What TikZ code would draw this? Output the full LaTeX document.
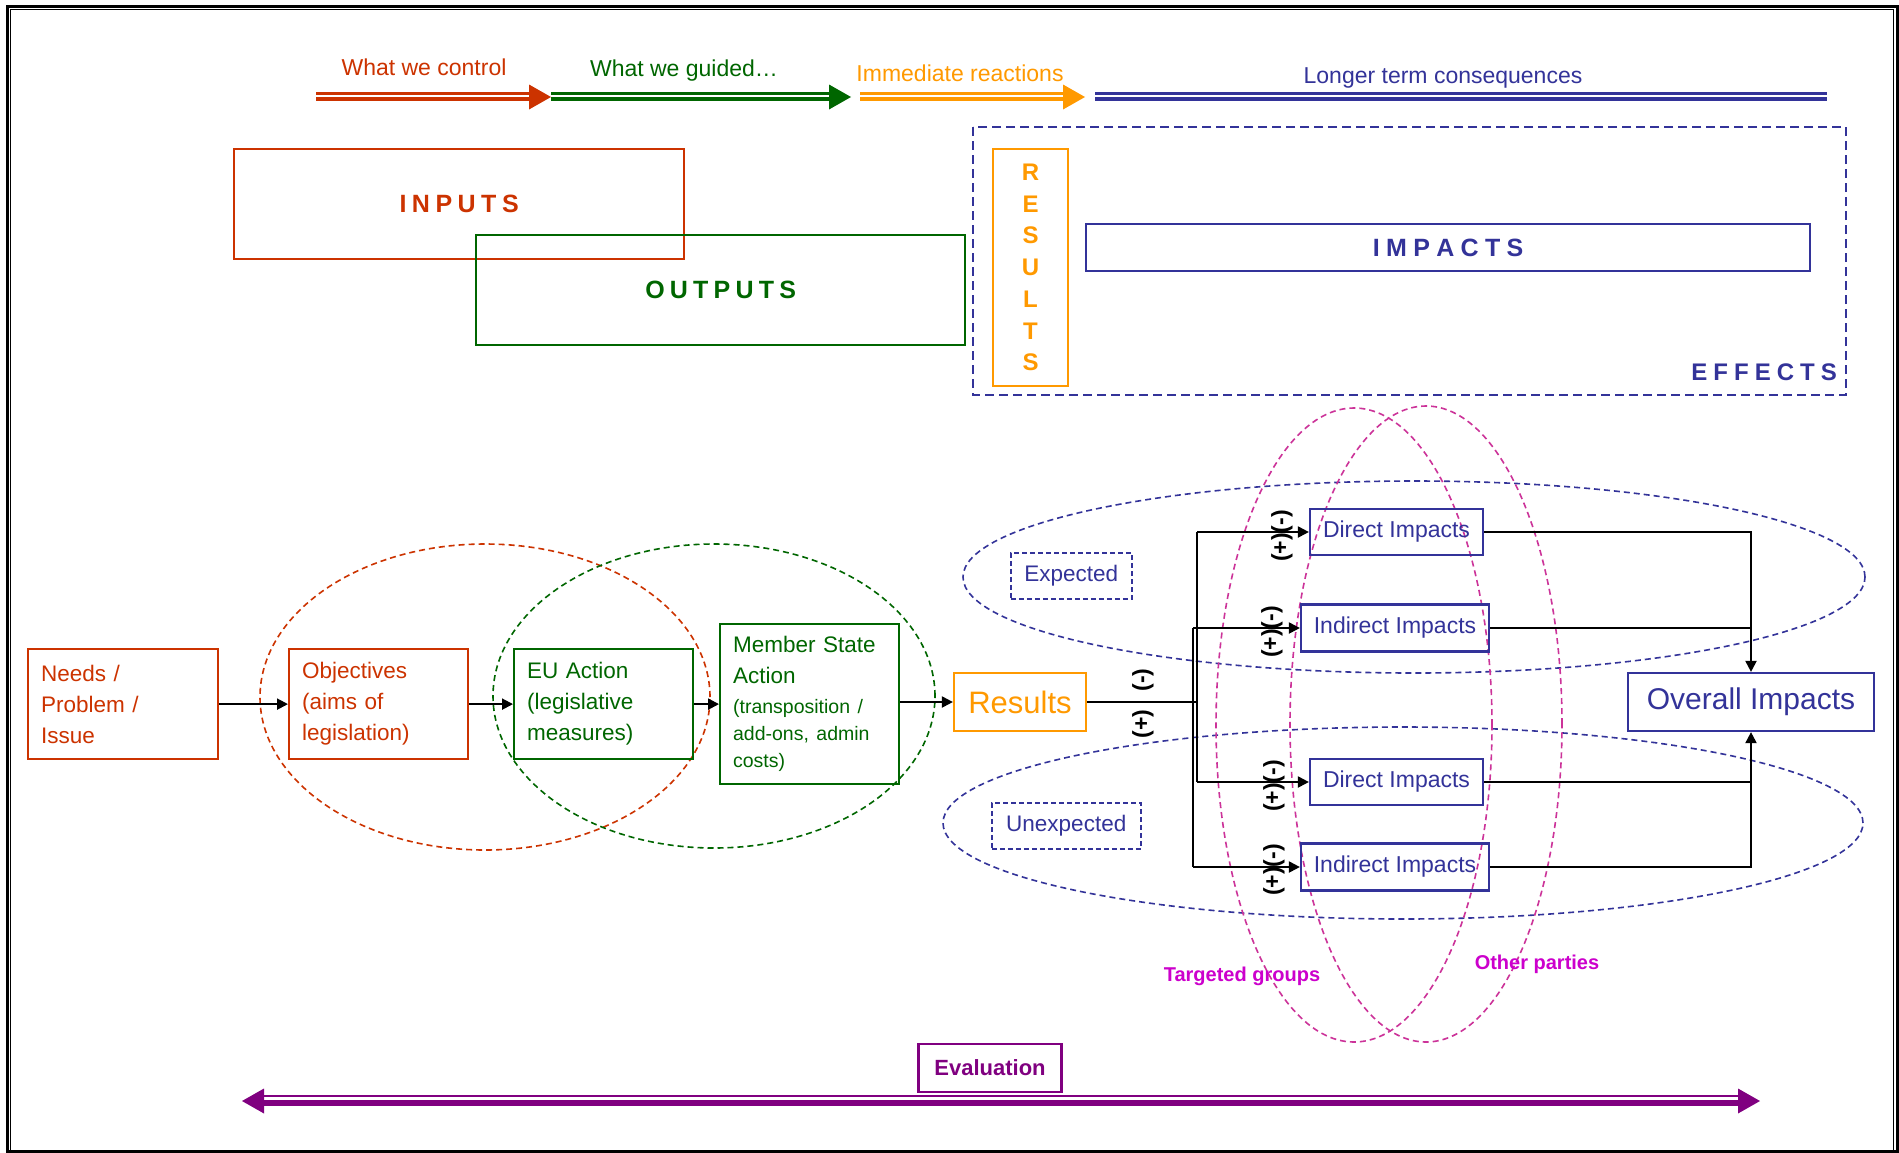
\documentclass[tikz,border=0pt]{standalone}
\usepackage{fontspec}
\setmainfont{Liberation Sans}
\usetikzlibrary{arrows.meta}

\definecolor{ctrlred}{HTML}{CC3300}
\definecolor{guidegreen}{HTML}{006600}
\definecolor{reactorange}{HTML}{FF9900}
\definecolor{effectblue}{HTML}{333399}
\definecolor{grouppink}{HTML}{CC3399}
\definecolor{grouptext}{HTML}{CC00CC}
\definecolor{evalpurple}{HTML}{800080}

% letter-spaced capitals
\newlength\trkgap
\def\trkloop#1{\ifx\relax#1\else#1\kern\trkgap\expandafter\trkloop\fi}
\newcommand\tracked[2]{\setlength\trkgap{#1}\trkloop#2\relax\unkern}

\begin{document}
\begin{tikzpicture}[x=1pt,y=-1pt,
  every node/.style={inner sep=0pt},
  lbox/.style={draw, line width=2.2pt, anchor=north west, inner xsep=13pt, inner ysep=0pt,
               align=left, font=\fontsize{22.5}{31}\selectfont},
  ibox/.style={draw=effectblue, line width=2.2pt, text=effectblue, inner sep=0pt,
               font=\fontsize{23}{28}\selectfont},
  capsbox/.style={draw, line width=2.2pt, anchor=north west, font=\bfseries\fontsize{25}{30}\selectfont},
  toplabel/.style={font=\fontsize{23}{28}\selectfont},
  oval/.style={dashed, dash pattern=on 6pt off 4pt, line width=1.6pt},
  tagbox/.style={draw=effectblue, dashed, dash pattern=on 5pt off 3pt, line width=1.5pt,
                 text=effectblue, font=\fontsize{22.5}{28}\selectfont, anchor=north west},
  wire/.style={draw, line width=2pt},
  conn/.style={draw, line width=2pt, -{Triangle[length=11pt,width=11pt]}},
  pm/.style={font=\bfseries\fontsize{23}{28}\selectfont, rotate=90},
  grouplabel/.style={text=grouptext, font=\bfseries\fontsize{20}{24}\selectfont}
]
% page and frame
\fill[white] (0,0) rectangle (1899,1152);
\useasboundingbox (0,0) rectangle (1899,1152);
\draw[line width=3pt] (7,6) rectangle (1897,1151);
\draw[line width=1.5pt] (10.5,1151) -- (10.5,9.5) -- (1893.5,9.5) -- (1893.5,1151);

% ---- top band of arrows ----
\coordinate (ctrlS) at (316,97);   \coordinate (ctrlE) at (551,97);
\coordinate (guideS) at (551,97);  \coordinate (guideE) at (851,97);
\coordinate (reactS) at (860,97);  \coordinate (reactE) at (1085,97);
\coordinate (longS) at (1095,97);

\draw[ctrlred, line width=2.5pt] (ctrlS) ++(0,-3.5) -- ++(215,0);
\draw[ctrlred, line width=4.5pt] (ctrlS) ++(0,2) -- ++(215,0);
\fill[ctrlred] (ctrlE) -- ++(-22,-12.5) -- ++(0,25) -- cycle;

\draw[guidegreen, line width=2.5pt] (guideS) ++(0,-3.5) -- ++(280,0);
\draw[guidegreen, line width=4.5pt] (guideS) ++(0,2) -- ++(280,0);
\fill[guidegreen] (guideE) -- ++(-22,-12.5) -- ++(0,25) -- cycle;

\draw[reactorange, line width=2.5pt] (reactS) ++(0,-3.5) -- ++(205,0);
\draw[reactorange, line width=4.5pt] (reactS) ++(0,2) -- ++(205,0);
\fill[reactorange] (reactE) -- ++(-22,-12.5) -- ++(0,25) -- cycle;

\draw[effectblue, line width=2.5pt] (longS) ++(0,-3.5) -- ++(732,0);
\draw[effectblue, line width=4.5pt] (longS) ++(0,2) -- ++(732,0);

\node[toplabel, text=ctrlred] (tctrl) at (424,67) {What we control};
\node[toplabel, text=guidegreen] (tguide) at (684,71) {What we guided…};
\node[toplabel, text=reactorange] (treact) at (960,73) {Immediate reactions};
\node[toplabel, text=effectblue] (tlong) at (1443,78) {Longer term consequences};

% ---- top blocks ----
\node[capsbox, draw=ctrlred, text=ctrlred, minimum width=450pt, minimum height=110pt] (inputs) at (233,148)
  {\tracked{5.5pt}{INPUTS}};
\node[capsbox, draw=guidegreen, text=guidegreen, minimum width=489pt, minimum height=110pt] (outputs) at (475,234)
  {\tracked{5.2pt}{OUTPUTS}};
\draw[effectblue, dashed, dash pattern=on 9pt off 5pt, line width=2pt] (973,127) rectangle (1846,395);
\node[draw=reactorange, line width=2pt, anchor=north west, minimum width=75pt, minimum height=237pt,
      align=center, text=reactorange, font=\bfseries\fontsize{24}{31.7}\selectfont] (resv) at (992,148)
  {R\\E\\S\\U\\L\\T\\S};
\node[capsbox, draw=effectblue, text=effectblue, minimum width=724pt, minimum height=47pt] (impacts) at (1085,223)
  {\tracked{6.3pt}{IMPACTS}};
\node[anchor=east, text=effectblue, font=\bfseries\fontsize{24}{30}\selectfont] (effects) at (1837,372)
  {\tracked{6pt}{EFFECTS}};

% ---- dashed groupings ----
\draw[oval, ctrlred] (485,697) ellipse [x radius=225pt, y radius=153pt];
\draw[oval, guidegreen] (714,696) ellipse [x radius=221pt, y radius=152pt];
\draw[oval, effectblue] (1414,577) ellipse [x radius=451pt, y radius=96pt];
\draw[oval, effectblue] (1403,823) ellipse [x radius=460pt, y radius=96pt];
\draw[oval, grouppink] (1354,725) ellipse [x radius=138pt, y radius=317pt];
\draw[oval, grouppink] (1426,724) ellipse [x radius=136pt, y radius=318pt];

% ---- chain of boxes ----
\node[lbox, draw=ctrlred, text=ctrlred, text width=164pt, minimum height=110pt] (needs) at (27,648)
  {Needs /\\Problem /\\Issue};
\node[lbox, draw=ctrlred, text=ctrlred, text width=153pt, minimum height=110pt] (obj) at (288,648)
  {Objectives\\(aims of\\legislation)};
\node[lbox, draw=guidegreen, text=guidegreen, text width=153pt, minimum height=110pt] (eu) at (513,648)
  {EU Action\\(legislative\\measures)};
\node[lbox, draw=guidegreen, text=guidegreen, text width=153pt, minimum height=160pt] (ms) at (719,623)
  {Member State\\Action\par\vskip3pt
   {\fontsize{19.5}{27}\selectfont (transposition /\\add-ons, admin\\costs)\par}};
\node[draw=reactorange, line width=2.2pt, text=reactorange, minimum width=132pt, minimum height=58pt,
      font=\fontsize{31}{36}\selectfont] (res) at (1020,702) {Results};

\draw[conn] (needs.east) -- (obj.west);
\draw[conn] (obj.east) -- (eu.west);
\draw[conn] (eu.east) -- (ms.west);
\draw[conn] (ms.east |- res.west) -- (res.west);

% ---- impacts ----
\node[ibox, minimum width=173pt, minimum height=46pt] (d1) at (1396.5,532) {Direct Impacts};
\node[ibox, minimum width=188pt, minimum height=47pt] (i1) at (1395,628) {Indirect Impacts};
\node[ibox, minimum width=173pt, minimum height=46pt] (d2) at (1396.5,782) {Direct Impacts};
\node[ibox, minimum width=188pt, minimum height=47pt] (i2) at (1395,867) {Indirect Impacts};
\node[ibox, minimum width=246pt, minimum height=58pt, font=\fontsize{30}{36}\selectfont] (overall) at (1751,702)
  {Overall Impacts};

\node[tagbox, minimum width=121pt, minimum height=46pt] (expected) at (1010,552) {Expected};
\node[tagbox, minimum width=149pt, minimum height=46pt] (unexpected) at (991,802) {Unexpected};

\coordinate (dj1) at (1197,532);
\coordinate (dj2) at (1197,782);
\coordinate (ij1) at (1193,628);
\coordinate (ij2) at (1193,867);
\coordinate (rj) at (1197,702);

\draw[wire] (res.east) -- (rj);
\draw[wire] (dj1) -- (dj2);
\draw[wire] (ij1) -- (ij2);
\draw[conn] (dj1) -- (d1.west);
\draw[conn] (ij1) -- (i1.west);
\draw[conn] (dj2) -- (d2.west);
\draw[conn] (ij2) -- (i2.west);

\draw[conn] (d1.east) -- (d1.east -| overall.north) -- (overall.north);
\draw[wire] (i1.east) -- (i1.east -| overall.north);
\draw[wire] (d2.east) -- (d2.east -| overall.south);
\draw[conn] (i2.east) -- (i2.east -| overall.south) -- (overall.south);

\node[pm] (pmr1) at (1143,680) {(-)};
\node[pm] (pmr2) at (1143,724) {(+)};
\node[pm] (pmd1) at (1282,536) {(+)(-)};
\node[pm] (pmi1) at (1272,632) {(+)(-)};
\node[pm] (pmd2) at (1274,786) {(+)(-)};
\node[pm] (pmi2) at (1274,870) {(+)(-)};

\node[grouplabel] (targeted) at (1242,976) {Targeted groups};
\node[grouplabel] (others) at (1537,964) {Other parties};

% ---- evaluation ----
\node[draw=evalpurple, line width=2.5pt, minimum width=143pt, minimum height=48pt, text=evalpurple,
      font=\bfseries\fontsize{22}{26}\selectfont] (evalbox) at (990,1068) {Evaluation};
\coordinate (evl) at (242,1101);
\coordinate (evr) at (1760,1101);
\draw[evalpurple, line width=2pt] (evl) ++(20,-5) -- ++(1478,0);
\draw[evalpurple, line width=6pt] (evl) ++(20,1.5) -- ++(1478,0);
\fill[evalpurple] (evl) -- ++(22,-12.5) -- ++(0,25) -- cycle;
\fill[evalpurple] (evr) -- ++(-22,-12.5) -- ++(0,25) -- cycle;
\end{tikzpicture}
\end{document}
